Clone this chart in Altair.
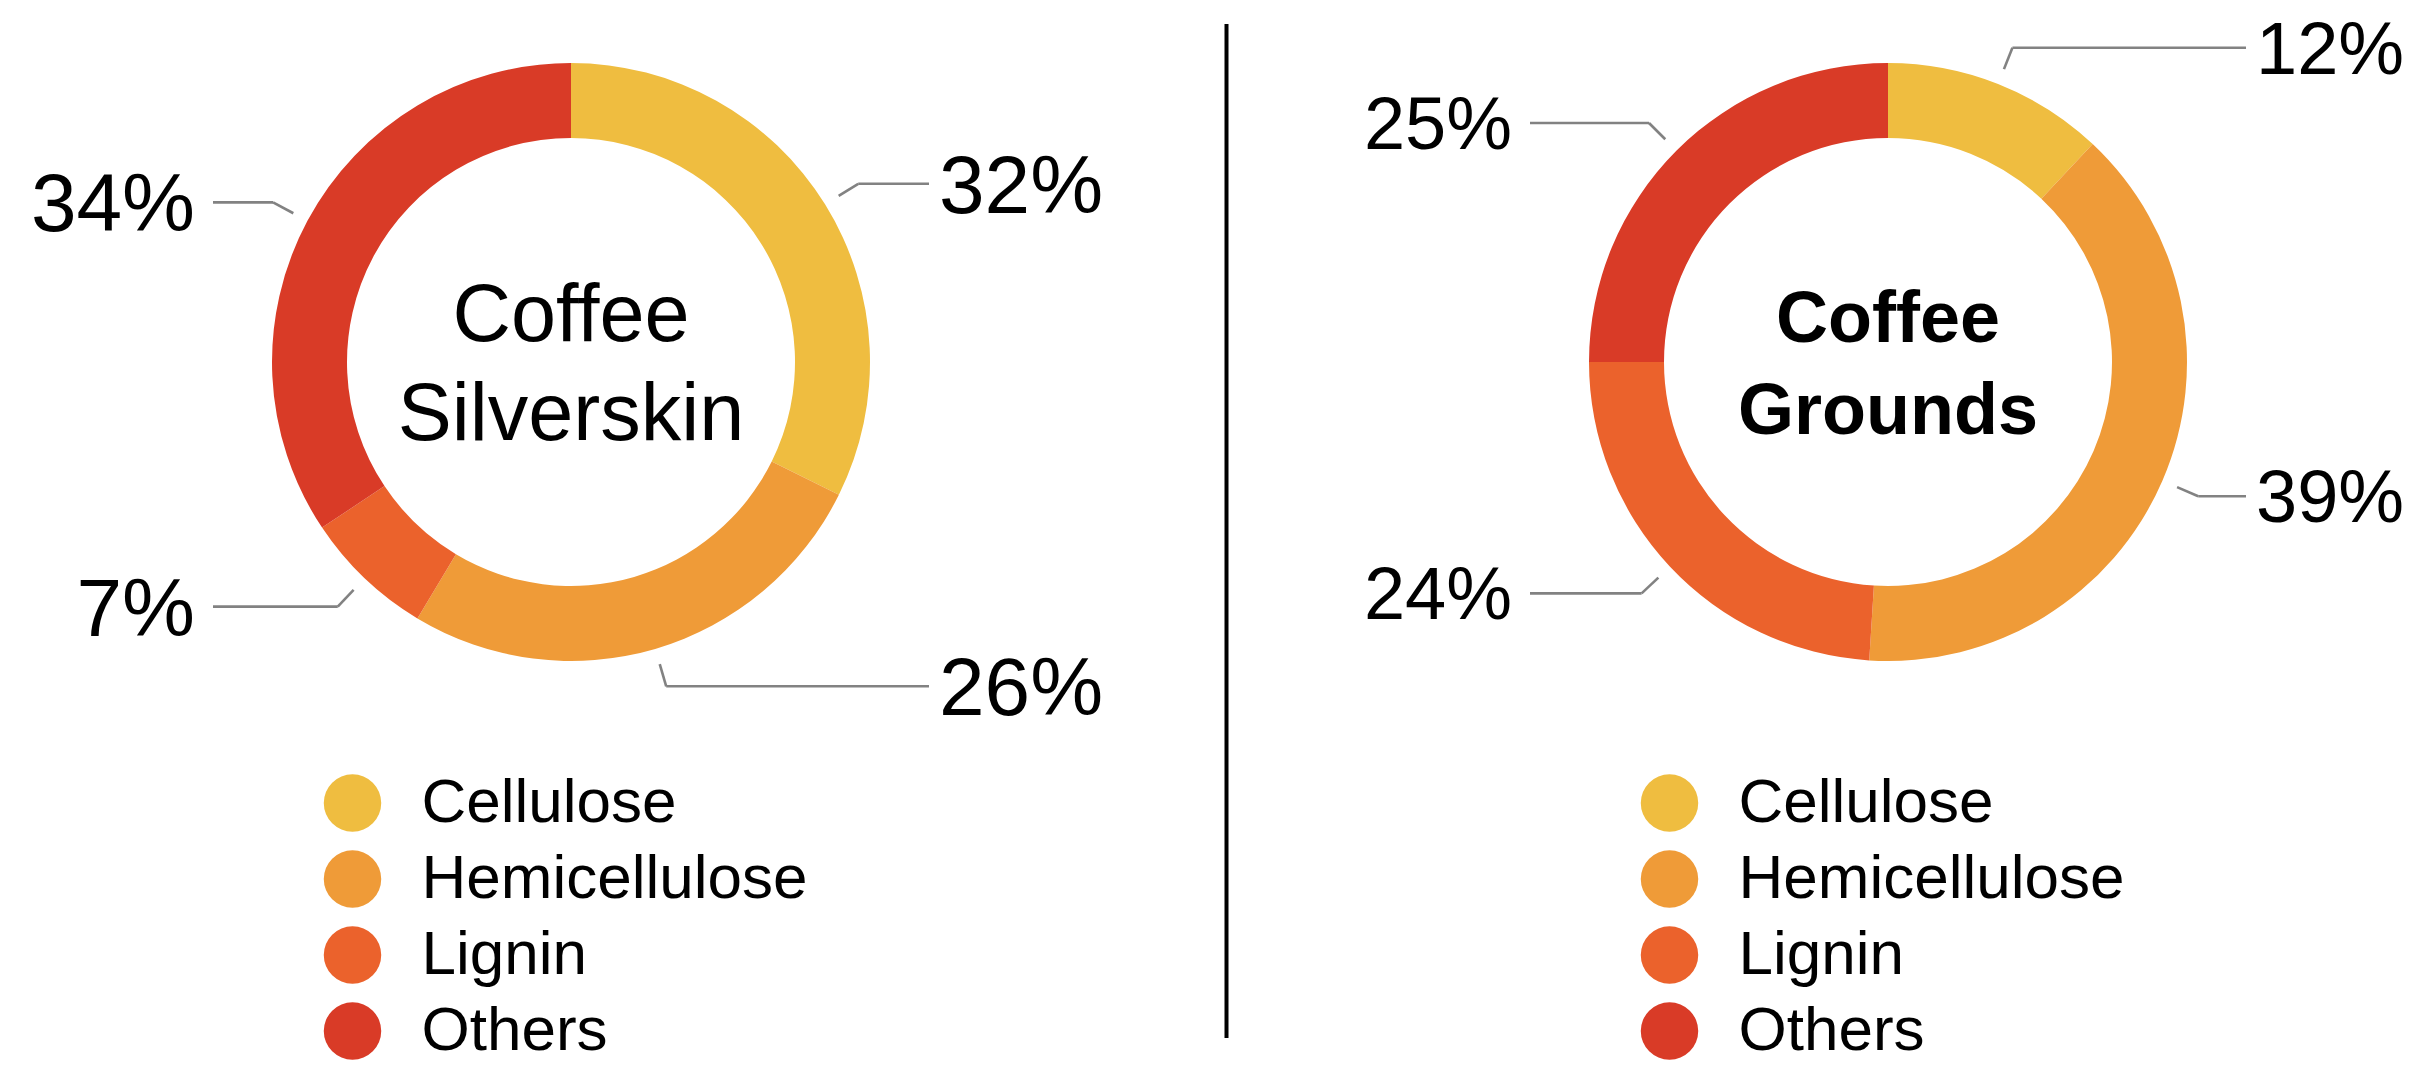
import altair as alt
import pandas as pd

components = ["Cellulose", "Hemicellulose", "Lignin", "Others"]
colors = ["#EFBD40", "#EF9B38", "#EB622C", "#D93B27"]
silverskin_values = [32, 26, 7, 34]
grounds_values = [12, 39, 24, 25]
titles = ["Coffee\nSilverskin", "Coffee\nGrounds"]

FONT = "Liberation Sans"
R_OUT, R_IN = 299, 224
R_START, R_ELBOW, X_END = 315, 338, 358


def panel(values, title, W, H, cx, bold, title_size, line_h, pct_size, divider=False):
    df = pd.DataFrame({
        "component": components,
        "value": values,
        "order": list(range(len(components))),
        "title": [title] * len(components),
    })
    xs = alt.Scale(domain=[-cx, W - cx], nice=False, zero=False)
    ys = alt.Scale(domain=[-H / 2, H / 2], nice=False, zero=False)
    color = alt.Color(
        "component:N",
        scale=alt.Scale(domain=components, range=colors),
        legend=alt.Legend(
            title=None, orient="none", legendX=cx - 249.5, legendY=764,
            symbolType="circle", symbolSize=3300, symbolStrokeWidth=0,
            labelFont=FONT, labelFontSize=62, labelColor="#000000",
            labelOffset=38, rowPadding=14, padding=0, labelLimit=600,
        ),
    )
    base = alt.Chart(df)
    arcs = base.mark_arc(outerRadius=R_OUT, innerRadius=R_IN).encode(
        x=alt.XDatum(0, scale=xs, axis=None, type="quantitative"),
        y=alt.YDatum(0, scale=ys, axis=None, type="quantitative"),
        theta=alt.Theta("value:Q", stack=True),
        color=color,
        order=alt.Order("order:Q"),
    )
    geo = (
        base.transform_joinaggregate(total="sum(value)")
        .transform_window(cum="sum(value)", sort=[alt.SortField("order")])
        .transform_calculate(mid="(datum.cum - datum.value / 2) / datum.total * 2 * PI")
        .transform_calculate(
            sx=f"{R_START} * sin(datum.mid)",
            sy=f"{R_START} * cos(datum.mid)",
            ex=f"{R_ELBOW} * sin(datum.mid)",
            ey=f"{R_ELBOW} * cos(datum.mid)",
            hx=f"(sin(datum.mid) >= 0 ? 1 : -1) * {X_END}",
            side="sin(datum.mid) >= 0 ? 'r' : 'l'",
            lab="datum.value + '%'",
        )
    )
    gray = "#828282"
    seg1 = geo.mark_rule(color=gray, strokeWidth=2.6).encode(
        x=alt.X("sx:Q", scale=xs, axis=None),
        y=alt.Y("sy:Q", scale=ys, axis=None),
        x2="ex:Q", y2="ey:Q",
    )
    seg2 = geo.mark_rule(color=gray, strokeWidth=2.6).encode(
        x=alt.X("ex:Q", scale=xs, axis=None),
        y=alt.Y("ey:Q", scale=ys, axis=None),
        x2="hx:Q",
    )
    lab_r = geo.transform_filter("datum.side == 'r'").mark_text(
        align="left", baseline="middle", font=FONT, fontSize=pct_size, dx=10, dy=4, color="#000000"
    ).encode(
        x=alt.X("hx:Q", scale=xs, axis=None),
        y=alt.Y("ey:Q", scale=ys, axis=None),
        text="lab:N",
    )
    lab_l = geo.transform_filter("datum.side == 'l'").mark_text(
        align="right", baseline="middle", font=FONT, fontSize=pct_size, dx=-18, dy=4, color="#000000"
    ).encode(
        x=alt.X("hx:Q", scale=xs, axis=None),
        y=alt.Y("ey:Q", scale=ys, axis=None),
        text="lab:N",
    )
    center = base.transform_filter("datum.order == 0").mark_text(
        align="center", baseline="middle", font=FONT, fontSize=title_size,
        fontWeight="bold" if bold else "normal", lineBreak="\n", lineHeight=line_h,
        color="#000000", dy=-line_h / 2 + 4,
    ).encode(
        text="title:N",
        x=alt.XDatum(0, scale=xs, axis=None, type="quantitative"),
        y=alt.YDatum(0, scale=ys, axis=None, type="quantitative"),
    )
    layers = [arcs, seg1, seg2, lab_l, lab_r, center]
    if divider:
        layers.append(
            alt.Chart(pd.DataFrame({"d": [0]})).mark_rule(color="#000000", strokeWidth=4).encode(
                x=alt.value(W - 2.5), y=alt.value(16), y2=alt.value(1030)
            )
        )
    return alt.layer(*layers).properties(width=W, height=H)


H = 708
left = panel(silverskin_values, titles[0], 1221, H, 563, False, 81, 99, 82, divider=True)
right = panel(grounds_values, titles[1], 1190, H, 659, True, 72, 92, 74)

chart = (
    alt.hconcat(left, right, spacing=0)
    .resolve_legend(color="independent")
    .properties(padding=0)
    .configure_view(stroke=None)
)
chart.save("out.html", embed_options={"renderer": "svg", "actions": False})
